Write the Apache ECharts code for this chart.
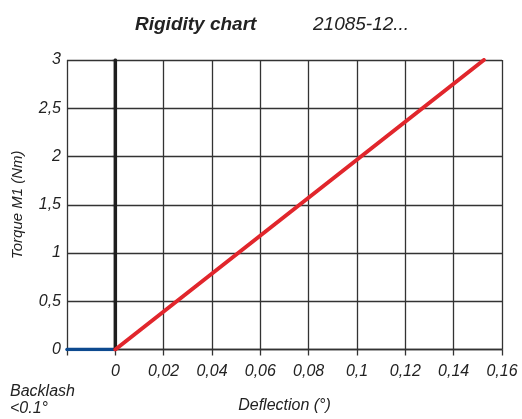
<!DOCTYPE html>
<html>
<head>
<meta charset="utf-8">
<script src="https://cdn.jsdelivr.net/npm/echarts@6/dist/echarts.min.js"></script>
<style>html,body{margin:0;padding:0;background:#fff;}#c{width:522px;height:419px;}</style>
</head>
<body>
<div id="c"></div>
<script>
// Data
const stiffnessX = [0, 0.1525];
const stiffnessY = [0, 3];
const backlashX = [-0.02, 0];
const backlashY = [0, 0];
const zeroLineX = [0, 0];
const zeroLineY = [0, 3];
const xTicks = { min: -0.02, max: 0.16, interval: 0.02 };
const yTicks = { min: 0, max: 3, interval: 0.5 };
const titleText = 'Rigidity chart';
const subtitleText = '21085-12...';
const xName = 'Deflection (°)';
const yName = 'Torque M1 (Nm)';
const noteText = 'Backlash\n<0.1°';

const FONT = '"Liberation Sans", Arial, sans-serif';
const pair = (xs, ys) => xs.map((x, i) => [x, ys[i]]);
const fmt = v => {
  const r = parseFloat(Number(v).toFixed(4));
  return String(r).replace('.', ',');
};

const chart = echarts.init(document.getElementById('c'), null, { renderer: 'canvas' });
chart.setOption({
  animation: false,
  backgroundColor: '#fff',
  grid: { left: 67, right: 20, top: 60, bottom: 69.5, containLabel: false },
  title: [
    { text: titleText, left: 135, top: 15, padding: 0,
      textStyle: { fontFamily: FONT, fontSize: 19, fontStyle: 'italic', fontWeight: 'bold', color: '#222' } },
    { text: subtitleText, left: 313, top: 15, padding: 0,
      textStyle: { fontFamily: FONT, fontSize: 19, fontStyle: 'italic', fontWeight: 'normal', color: '#222' } }
  ],
  graphic: [
    { type: 'text', left: 10, top: 383,
      style: { text: noteText, font: 'italic 16px ' + FONT, fill: '#222', lineHeight: 17 } }
  ],
  xAxis: {
    type: 'value', min: xTicks.min, max: xTicks.max, interval: xTicks.interval,
    name: xName, nameLocation: 'middle', nameGap: 48,
    nameTextStyle: { fontFamily: FONT, fontSize: 16, fontStyle: 'italic', color: '#222' },
    axisLine: { show: true, onZero: false, lineStyle: { color: '#333', width: 1.3 } },
    axisTick: { show: true, length: 6, lineStyle: { color: '#333', width: 1.3 } },
    axisLabel: {
      margin: 14, fontFamily: FONT, fontSize: 16, fontStyle: 'italic', color: '#222',
      formatter: v => (v < -1e-9 ? '' : fmt(v))
    },
    splitLine: { show: true, lineStyle: { color: '#333', width: 1.3 } }
  },
  yAxis: {
    type: 'value', min: yTicks.min, max: yTicks.max, interval: yTicks.interval,
    name: yName, nameLocation: 'middle', nameGap: 42,
    nameTextStyle: { fontFamily: FONT, fontSize: 15, fontStyle: 'italic', color: '#222' },
    axisLine: { show: true, lineStyle: { color: '#333', width: 1.3 } },
    axisTick: { show: true, length: 3, lineStyle: { color: '#333', width: 1.3 } },
    axisLabel: { margin: 6, fontFamily: FONT, fontSize: 16, fontStyle: 'italic', color: '#222', formatter: fmt },
    splitLine: { show: true, lineStyle: { color: '#333', width: 1.3 } }
  },
  series: [
    { type: 'line', data: pair(backlashX, backlashY), symbol: 'none', z: 3,
      lineStyle: { color: '#0d4a8f', width: 3.5, cap: 'round' } },
    { type: 'line', data: pair(zeroLineX, zeroLineY), symbol: 'none', z: 4,
      lineStyle: { color: '#1e1e1e', width: 3.5, cap: 'round' } },
    { type: 'line', data: pair(stiffnessX, stiffnessY), symbol: 'none', z: 5,
      lineStyle: { color: '#e1262c', width: 4, cap: 'round' } }
  ]
});
</script>
</body>
</html>
